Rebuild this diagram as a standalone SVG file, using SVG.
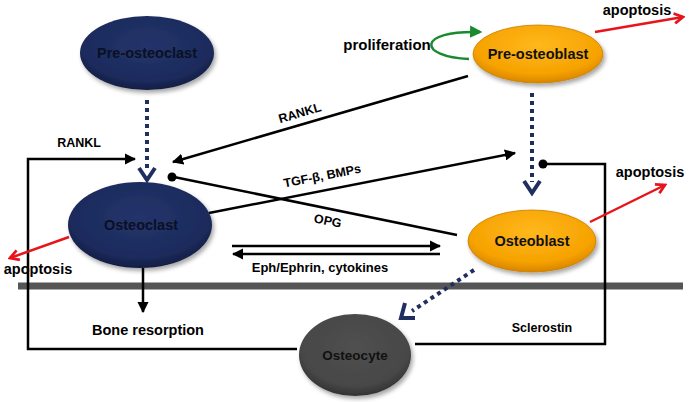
<svg xmlns="http://www.w3.org/2000/svg" width="691" height="402" viewBox="0 0 691 402">
<defs>
<radialGradient id="gNavy" cx="50%" cy="40%" r="60%">
<stop offset="0%" stop-color="#23346b"/><stop offset="80%" stop-color="#1c2b5c"/><stop offset="100%" stop-color="#121d42"/>
</radialGradient>
<radialGradient id="gOrange" cx="50%" cy="35%" r="65%">
<stop offset="0%" stop-color="#ffb81c"/><stop offset="75%" stop-color="#f6a200"/><stop offset="100%" stop-color="#d98500"/>
</radialGradient>
<radialGradient id="gGray" cx="50%" cy="40%" r="60%">
<stop offset="0%" stop-color="#505050"/><stop offset="80%" stop-color="#474747"/><stop offset="100%" stop-color="#333"/>
</radialGradient>
<filter id="sh" x="-20%" y="-20%" width="150%" height="150%">
<feDropShadow dx="2" dy="3" stdDeviation="2" flood-color="#000" flood-opacity="0.35"/>
</filter>
<marker id="ab" viewBox="0 0 10 10" refX="9" refY="5" markerWidth="4.5" markerHeight="4.5" orient="auto" markerUnits="strokeWidth">
<path d="M0,0 L10,5 L0,10 z" fill="#000"/>
</marker>
<marker id="ar" viewBox="0 0 10 10" refX="8" refY="5" markerWidth="5" markerHeight="5" orient="auto" markerUnits="strokeWidth">
<path d="M1,1 L8,5 L1,9" fill="none" stroke="#e8141b" stroke-width="2.2"/>
</marker>
<marker id="ag" viewBox="0 0 10 10" refX="8" refY="5" markerWidth="5" markerHeight="5" orient="auto" markerUnits="strokeWidth">
<path d="M0,0 L10,5 L0,10 z" fill="#1a8a2e"/>
</marker>
<style>
.node text{font-family:"Liberation Sans",Arial,sans-serif;font-weight:bold;font-size:14.5px;text-anchor:middle}
.lbl{font-family:"Liberation Sans",Arial,sans-serif;font-weight:bold;fill:#000}
.blk{stroke:#000;stroke-width:2.5;fill:none}
.red{stroke:#e8141b;stroke-width:2.5;fill:none}
.dot{stroke:#1f2f60;stroke-width:4;fill:none;stroke-dasharray:4 4}
.chev{stroke:#1f2f60;stroke-width:4;fill:none}
</style>
</defs>

<rect width="691" height="402" fill="#fff"/>

<!-- separator line -->
<line x1="18" y1="286" x2="683" y2="286" stroke="#555" stroke-width="7"/>

<g id="connectors">
<!-- dotted differentiation arrows -->
<line class="dot" x1="147" y1="100" x2="147" y2="168"/>
<path class="chev" d="M139,168 L147,180 L155,168"/>
<line class="dot" x1="532" y1="93" x2="532" y2="182"/>
<path class="chev" d="M524,181 L532,193 L540,181"/>
<line class="dot" x1="474" y1="270" x2="412" y2="311"/>
<path class="chev" d="M405,303 L401,318 L415,318"/>
<!-- RANKL left loop -->
<path class="blk" d="M297,349 L28,349 L28,159 L135,159" marker-end="url(#ab)"/>
<!-- Sclerostin loop -->
<path class="blk" d="M415,344 L605,344 L605,164 L545,164"/>
<circle cx="543" cy="164" r="4.5" fill="#000"/>
<!-- RANKL diagonal -->
<line class="blk" x1="468" y1="76" x2="173" y2="162" marker-end="url(#ab)"/>
<!-- OPG -->
<line class="blk" x1="457" y1="235" x2="174" y2="177"/>
<circle cx="172" cy="177" r="4.5" fill="#000"/>
<!-- TGF-beta -->
<line class="blk" x1="209" y1="213" x2="515" y2="153" marker-end="url(#ab)"/>
<!-- Eph/Ephrin -->
<line class="blk" x1="232" y1="246" x2="440" y2="246" marker-end="url(#ab)"/>
<line class="blk" x1="440" y1="254" x2="233" y2="254" marker-end="url(#ab)"/>
<!-- bone resorption -->
<line class="blk" x1="143" y1="268" x2="143" y2="312" marker-end="url(#ab)"/>
<!-- proliferation -->
<path d="M469,59 C418,57 416,30 480,32" stroke="#1a8a2e" stroke-width="2.5" fill="none" marker-end="url(#ag)"/>
<!-- apoptosis arrows -->
<line class="red" x1="595" y1="32" x2="683" y2="17" marker-end="url(#ar)"/>
<line class="red" x1="590" y1="222" x2="665" y2="185" marker-end="url(#ar)"/>
<line class="red" x1="69" y1="237" x2="10" y2="258" marker-end="url(#ar)"/>
</g>

<g id="pre-osteoclast" class="node">
<ellipse cx="147" cy="53" rx="67" ry="37" fill="url(#gNavy)" filter="url(#sh)"/>
<text x="147" y="58" fill="#0b1025">Pre-osteoclast</text>
</g>
<g id="osteoclast" class="node">
<ellipse cx="140" cy="225" rx="72" ry="43" fill="url(#gNavy)" filter="url(#sh)"/>
<text x="141" y="230" fill="#0b1025">Osteoclast</text>
</g>
<g id="pre-osteoblast" class="node">
<ellipse cx="538" cy="54" rx="65" ry="29" fill="url(#gOrange)" stroke="#c98000" stroke-width="0.8" filter="url(#sh)"/>
<text x="538" y="59" fill="#111">Pre-osteoblast</text>
</g>
<g id="osteoblast" class="node">
<ellipse cx="532" cy="241" rx="64" ry="31" fill="url(#gOrange)" stroke="#c98000" stroke-width="0.8" filter="url(#sh)"/>
<text x="532" y="246" fill="#111">Osteoblast</text>
</g>
<g id="osteocyte" class="node">
<ellipse cx="355" cy="355" rx="56" ry="41" fill="url(#gGray)" filter="url(#sh)"/>
<text x="355" y="360" fill="#111" style="font-size:13.5px">Osteocyte</text>
</g>

<g id="labels">
<text class="lbl" x="79" y="147" font-size="12.5" text-anchor="middle">RANKL</text>
<text class="lbl" x="301" y="117" font-size="12.5" text-anchor="middle" transform="rotate(-16.4 301 117)">RANKL</text>
<text class="lbl" x="323" y="180" font-size="12.5" text-anchor="middle" transform="rotate(-11 323 180)">TGF-β, BMPs</text>
<text class="lbl" x="327" y="225" font-size="12.5" text-anchor="middle" transform="rotate(11.5 327 225)">OPG</text>
<text class="lbl" x="320" y="272" font-size="13" text-anchor="middle">Eph/Ephrin, cytokines</text>
<text class="lbl" x="387" y="50" font-size="15" text-anchor="middle">proliferation</text>
<text class="lbl" x="637" y="15" font-size="14.5" text-anchor="middle">apoptosis</text>
<text class="lbl" x="650" y="177" font-size="14.5" text-anchor="middle">apoptosis</text>
<text class="lbl" x="38" y="274" font-size="14.5" text-anchor="middle">apoptosis</text>
<text class="lbl" x="148" y="335" font-size="14.5" text-anchor="middle">Bone resorption</text>
<text class="lbl" x="542" y="332" font-size="12.5" text-anchor="middle">Sclerostin</text>
</g>
</svg>
